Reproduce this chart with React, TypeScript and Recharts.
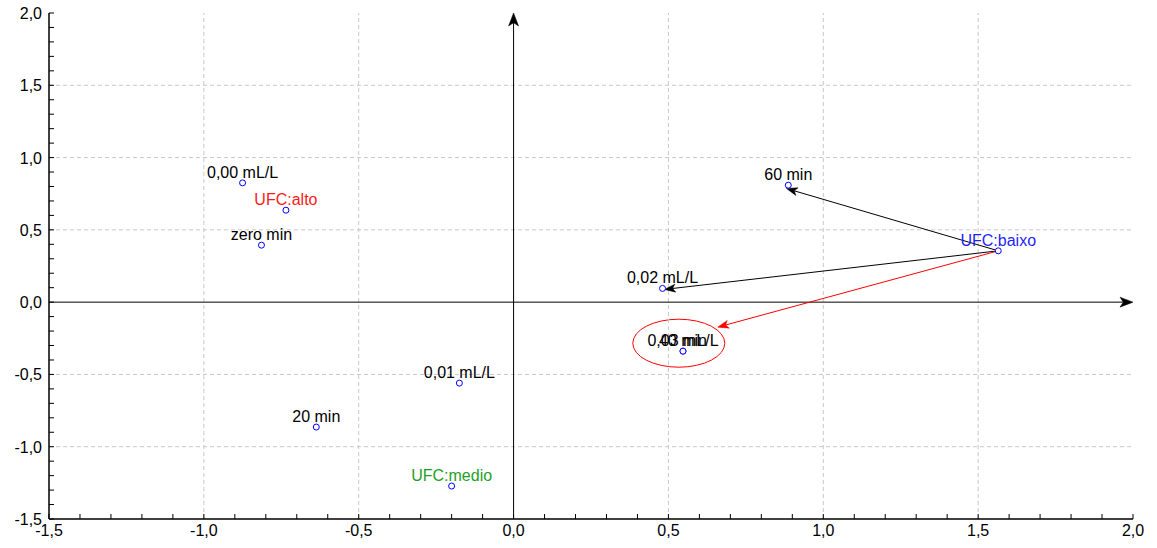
import React from 'react';
import { ScatterChart, Scatter, XAxis, YAxis, ReferenceLine, ReferenceArea } from 'recharts';

// ---- data ----
const pointLabels = ['0,00 mL/L', 'UFC:alto', 'zero min', '60 min', 'UFC:baixo', '0,02 mL/L', '0,03 mL/L', '40 min', '0,01 mL/L', '20 min', 'UFC:medio'];
const pointX = [-0.875, -0.735, -0.814, 0.887, 1.565, 0.481, 0.547, 0.547, -0.175, -0.637, -0.2];
const pointY = [0.825, 0.636, 0.394, 0.809, 0.355, 0.095, -0.339, -0.339, -0.56, -0.864, -1.272];
const pointLabelColors = ['#000000', '#ff1a1a', '#000000', '#000000', '#1f1fff', '#000000', '#000000', '#000000', '#000000', '#000000', '#1f9f1f'];

const majorTicks = [-1.5, -1.0, -0.5, 0.0, 0.5, 1.0, 1.5, 2.0];
const minorTicks = [-1.5, -1.4, -1.3, -1.2, -1.1, -1.0, -0.9, -0.8, -0.7, -0.6, -0.5, -0.4, -0.3, -0.2, -0.1, 0.0, 0.1, 0.2, 0.3, 0.4, 0.5, 0.6, 0.7, 0.8, 0.9, 1.0, 1.1, 1.2, 1.3, 1.4, 1.5, 1.6, 1.7, 1.8, 1.9, 2.0];
const gridValues = [-1.0, -0.5, 0.5, 1.0, 1.5];

const arrowFromX = [1.565, 1.565, 1.565];
const arrowFromY = [0.355, 0.355, 0.355];
const arrowToX = [0.881, 0.487, 0.659];
const arrowToY = [0.786, 0.088, -0.173];
const arrowColors = ['#000000', '#000000', '#ff0000'];

const ellipseX = [0.385, 0.682];
const ellipseY = [-0.45, -0.118];

const DOMAIN: [number, number] = [-1.5, 2.0];

const points = pointLabels.map((label, i) => ({ x: pointX[i], y: pointY[i], label, color: pointLabelColors[i] }));

const FONT = '"Liberation Sans", Arial, sans-serif';
const fmt = (v: number) => v.toFixed(1).replace('.', ',');
const isMajor = (v: number) => majorTicks.some((m) => Math.abs(m - v) < 1e-6);

const BottomTick = (props: any) => {
  const { x, y, payload } = props;
  const v = payload.value;
  return (
    <g>
      <line x1={x} y1={y} x2={x} y2={y - 5} stroke="#000" strokeWidth={1} />
      {isMajor(v) && (
        <text x={x} y={y + 17} textAnchor="middle" fontFamily={FONT} fontSize={16} fill="#000">
          {fmt(v)}
        </text>
      )}
    </g>
  );
};

const LeftTick = (props: any) => {
  const { x, y, payload } = props;
  const v = payload.value;
  return (
    <g>
      <line x1={x} y1={y} x2={x + 5} y2={y} stroke="#000" strokeWidth={1} />
      {isMajor(v) && (
        <text x={x - 7} y={y + 6} textAnchor="end" fontFamily={FONT} fontSize={16} fill="#000">
          {fmt(v)}
        </text>
      )}
    </g>
  );
};

const TopTick = (props: any) => {
  const { x, y } = props;
  return <line x1={x} y1={y} x2={x} y2={y + 5} stroke="#000" strokeWidth={1} />;
};

const RightTick = (props: any) => {
  const { x, y } = props;
  return <line x1={x} y1={y} x2={x - 5} y2={y} stroke="#000" strokeWidth={1} />;
};

const makeArrow = (color: string, len = 11, half = 4) => (props: any) => {
  const { x1, y1, x2, y2 } = props;
  const dx = x2 - x1;
  const dy = y2 - y1;
  const d = Math.sqrt(dx * dx + dy * dy) || 1;
  const ux = dx / d;
  const uy = dy / d;
  const px = -uy;
  const py = ux;
  const bx = x2 - ux * len;
  const by = y2 - uy * len;
  const nx = x2 - ux * len * 0.75;
  const ny = y2 - uy * len * 0.75;
  const pts = `${x2},${y2} ${bx + px * half},${by + py * half} ${nx},${ny} ${bx - px * half},${by - py * half}`;
  return (
    <g>
      <line x1={x1} y1={y1} x2={nx} y2={ny} stroke={color} strokeWidth={1} />
      <polygon points={pts} fill={color} stroke={color} strokeWidth={0.5} />
    </g>
  );
};

const EllipseShape = (props: any) => {
  const { x, y, width, height } = props;
  return (
    <ellipse
      cx={x + width / 2}
      cy={y + height / 2}
      rx={Math.abs(width) / 2}
      ry={Math.abs(height) / 2}
      fill="none"
      stroke="#ff0000"
      strokeWidth={1}
    />
  );
};

const PointShape = (props: any) => {
  const { cx, cy, payload } = props;
  return (
    <g>
      <circle cx={cx} cy={cy} r={3} fill="#ffffff" stroke="#0000ff" strokeWidth={1} />
      <text x={cx} y={cy - 5} textAnchor="middle" fontFamily={FONT} fontSize={16} fill={payload.color}>
        {payload.label}
      </text>
    </g>
  );
};

export default function App() {
  return (
    <div style={{ position: 'absolute', left: 0, top: 0, width: 1157, height: 548, background: '#fff' }}>
      <ScatterChart width={1157} height={548} margin={{ top: 13, right: 24, bottom: 0, left: 0 }}>
        <XAxis
          xAxisId="b"
          dataKey="x"
          type="number"
          domain={DOMAIN}
          ticks={minorTicks}
          interval={0}
          height={29}
          tickSize={0}
          tickMargin={0}
          tick={BottomTick}
          axisLine={{ stroke: '#000', strokeWidth: 1.5 }}
          allowDataOverflow
        />
        <XAxis
          xAxisId="t"
          orientation="top"
          type="number"
          domain={DOMAIN}
          ticks={minorTicks}
          interval={0}
          height={0}
          tickSize={0}
          tickMargin={0}
          tick={TopTick}
          axisLine={{ stroke: '#000', strokeWidth: 1.5 }}
          allowDataOverflow
        />
        <YAxis
          yAxisId="l"
          dataKey="y"
          type="number"
          domain={DOMAIN}
          ticks={minorTicks}
          interval={0}
          width={49}
          tickSize={0}
          tickMargin={0}
          tick={LeftTick}
          axisLine={{ stroke: '#000', strokeWidth: 1.5 }}
          allowDataOverflow
        />
        <YAxis
          yAxisId="r"
          orientation="right"
          type="number"
          domain={DOMAIN}
          ticks={minorTicks}
          interval={0}
          width={0}
          tickSize={0}
          tickMargin={0}
          tick={RightTick}
          axisLine={{ stroke: '#000', strokeWidth: 1.5 }}
          allowDataOverflow
        />
        {gridValues.map((v) => (
          <ReferenceLine key={'gx' + v} xAxisId="b" yAxisId="l" x={v} stroke="#c8c8c8" strokeDasharray="4 3" />
        ))}
        {gridValues.map((v) => (
          <ReferenceLine key={'gy' + v} xAxisId="b" yAxisId="l" y={v} stroke="#c8c8c8" strokeDasharray="4 3" />
        ))}
        <ReferenceLine
          xAxisId="b"
          yAxisId="l"
          segment={[{ x: DOMAIN[0], y: 0 }, { x: DOMAIN[1], y: 0 }]}
          shape={makeArrow('#000000', 13, 5)}
          ifOverflow="visible"
        />
        <ReferenceLine
          xAxisId="b"
          yAxisId="l"
          segment={[{ x: 0, y: DOMAIN[0] }, { x: 0, y: DOMAIN[1] }]}
          shape={makeArrow('#000000', 13, 5)}
          ifOverflow="visible"
        />
        {arrowFromX.map((fx, i) => (
          <ReferenceLine
            key={'a' + i}
            xAxisId="b"
            yAxisId="l"
            segment={[{ x: fx, y: arrowFromY[i] }, { x: arrowToX[i], y: arrowToY[i] }]}
            shape={makeArrow(arrowColors[i])}
          />
        ))}
        <ReferenceArea
          xAxisId="b"
          yAxisId="l"
          x1={ellipseX[0]}
          x2={ellipseX[1]}
          y1={ellipseY[0]}
          y2={ellipseY[1]}
          shape={EllipseShape}
        />
        <Scatter xAxisId="b" yAxisId="l" data={points} shape={PointShape} isAnimationActive={false} />
      </ScatterChart>
    </div>
  );
}
